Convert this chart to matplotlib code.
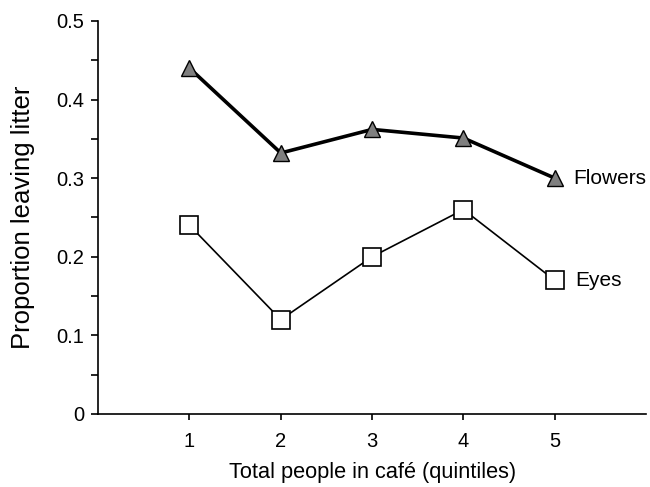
import numpy as np
import matplotlib
matplotlib.use('Agg')
import matplotlib.pyplot as plt
from matplotlib.ticker import MultipleLocator, FuncFormatter

plt.rcParams['font.family'] = ['Liberation Sans', 'DejaVu Sans']

# Data
quintiles = [1, 2, 3, 4, 5]
flowers = [0.44, 0.332, 0.362, 0.351, 0.30]
eyes = [0.24, 0.12, 0.20, 0.26, 0.17]
y_ticks = [0, 0.1, 0.2, 0.3, 0.4, 0.5]

fig = plt.figure(figsize=(6.5, 4.87), dpi=100)
ax = fig.add_axes([0.151, 0.15, 0.843, 0.807])

ax.plot(quintiles, flowers, color='black', lw=2.6, marker='^', ms=11,
        mfc='#7f7f7f', mec='black', mew=1.0, zorder=3)
ax.plot(quintiles, eyes, color='black', lw=1.2, marker='s', ms=13,
        mfc='white', mec='black', mew=1.2, zorder=3)

ax.annotate('Flowers', xy=(quintiles[-1], flowers[-1]), xytext=(13, 0),
            textcoords='offset points', va='center', ha='left', fontsize=15)
ax.annotate('Eyes', xy=(quintiles[-1], eyes[-1]), xytext=(15, 0),
            textcoords='offset points', va='center', ha='left', fontsize=15)

ax.set_xlim(0, 6)
ax.set_ylim(0, 0.5)
ax.set_xticks(quintiles)
ax.set_yticks(y_ticks)
ax.yaxis.set_minor_locator(MultipleLocator(0.05))
ax.yaxis.set_major_formatter(FuncFormatter(lambda v, p: '0' if abs(v) < 1e-9 else f'{v:.1f}'))
ax.tick_params(axis='both', which='both', direction='out', length=5, width=1.2,
               labelsize=14.5, pad=5)
ax.tick_params(axis='x', length=4, pad=9)

for side in ['top', 'right']:
    ax.spines[side].set_visible(False)
for side in ['left', 'bottom']:
    ax.spines[side].set_linewidth(1.2)

ax.set_xlabel('Total people in café (quintiles)', fontsize=15.7, labelpad=8)
ax.set_ylabel('Proportion leaving litter', fontsize=18.5, labelpad=15)

fig.savefig('out.png', dpi=100)
